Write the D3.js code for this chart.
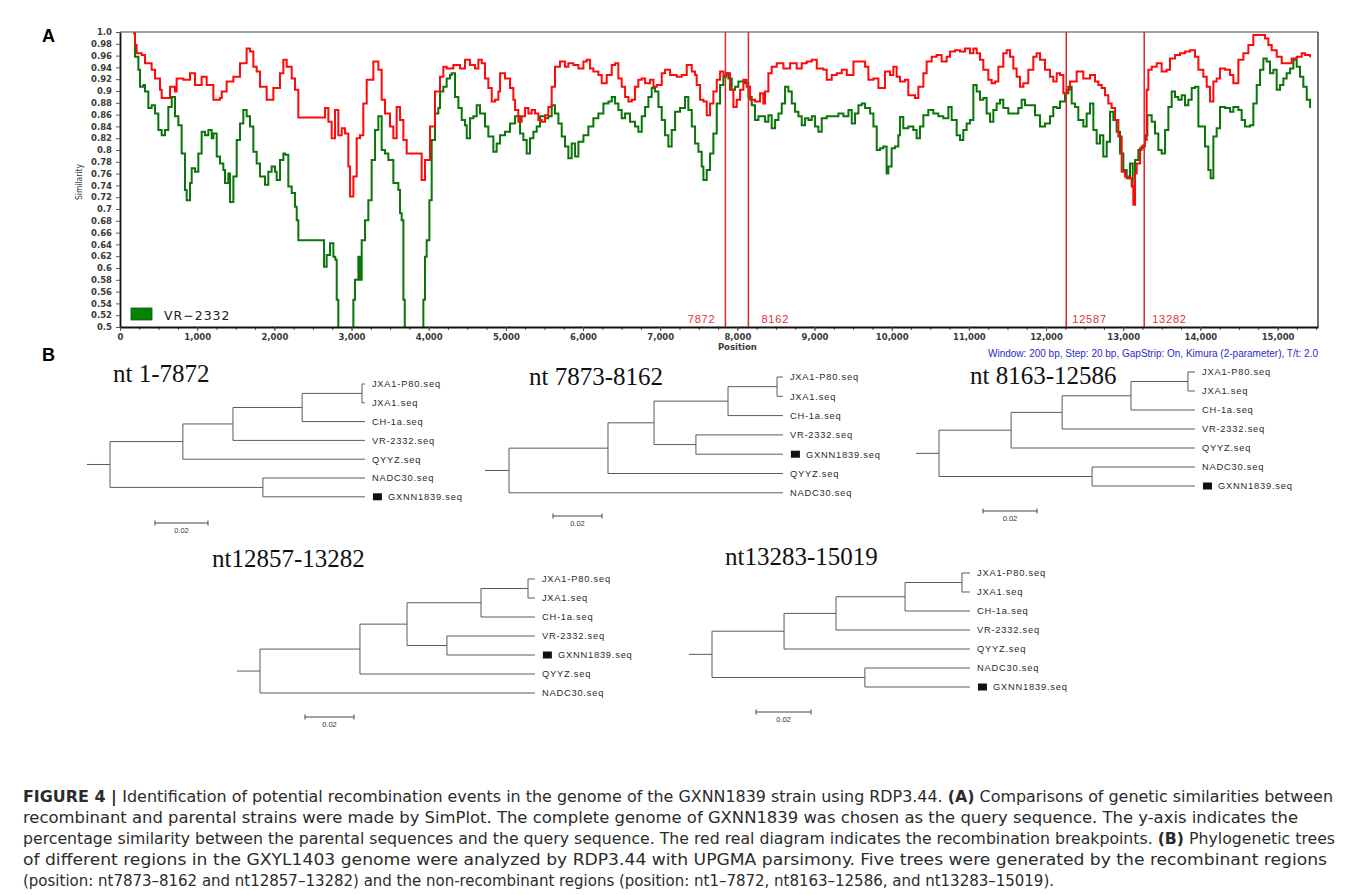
<!DOCTYPE html>
<html>
<head>
<meta charset="utf-8">
<script src="https://cdn.jsdelivr.net/npm/d3@7"></script>
<style>
  body { margin: 0; background: #fff; }
  svg { display: block; }
</style>
</head>
<body>
<svg id="fig" width="1358" height="895"></svg>
<script>
// ---- panel A data: [position (bp), similarity] ----
const redSeries = [
  [173,.998],[194,.978],[216,.964],[281,.961],[324,.947],[410,.936],[454,.921],[518,.902],[540,.888],[605,.888],
  [648,.907],[713,.899],[734,.921],[821,.919],[907,.930],[972,.910],[1058,.924],[1123,.910],[1188,.910],[1210,.885],
  [1296,.888],[1318,.899],[1382,.916],[1469,.924],[1555,.947],[1641,.972],[1685,.967],[1728,.941],[1771,.933],[1814,.907],
  [1901,.885],[1987,.905],[2073,.930],[2117,.953],[2160,.941],[2225,.921],[2268,.902],[2311,.855],[2635,.855],[2657,.871],
  [2700,.848],[2743,.820],[2786,.868],[2829,.825],[2873,.837],[2916,.828],[2959,.772],[2981,.721],[3024,.755],[3067,.820],
  [3110,.825],[3153,.879],[3197,.919],[3283,.950],[3348,.936],[3391,.885],[3434,.862],[3499,.840],[3542,.820],[3585,.873],
  [3629,.851],[3672,.817],[3715,.794],[3866,.794],[3909,.749],[3952,.783],[4017,.840],[4082,.899],[4147,.924],
  [4190,.941],[4233,.938],[4320,.944],[4406,.938],[4471,.953],[4536,.944],[4600,.938],[4644,.953],[4687,.947],[4730,.921],
  [4773,.905],[4817,.882],[4860,.885],[4903,.899],[4925,.930],[4989,.921],[5054,.905],[5097,.885],[5119,.868],[5162,.848],
  [5205,.857],[5249,.871],[5292,.862],[5335,.868],[5378,.862],[5421,.851],[5465,.848],[5508,.859],[5551,.873],[5594,.907],
  [5637,.941],[5702,.950],[5767,.941],[5810,.947],[5875,.944],[5940,.938],[6005,.950],[6048,.953],[6091,.938],[6134,.933],
  [6199,.927],[6242,.913],[6307,.927],[6372,.944],[6415,.947],[6458,.921],[6501,.907],[6545,.890],[6588,.882],[6631,.885],
  [6674,.907],[6717,.919],[6761,.921],[6804,.913],[6869,.919],[6912,.907],[6955,.910],[7020,.930],[7063,.936],[7128,.927],
  [7214,.924],[7279,.927],[7344,.944],[7409,.933],[7452,.927],[7473,.910],[7517,.885],[7560,.882],[7603,.859],[7646,.879],
  [7689,.899],[7733,.919],[7776,.933],[7819,.927],[7862,.930],[7905,.902],[7949,.873],[7992,.885],[8035,.902],[8078,.919],
  [8121,.907],[8165,.885],[8229,.882],[8294,.896],[8337,.879],[8359,.899],[8402,.930],[8445,.941],[8510,.947],[8597,.938],
  [8683,.947],[8769,.938],[8834,.947],[8899,.950],[8964,.953],[9029,.938],[9115,.936],[9158,.919],[9223,.927],[9288,.930],
  [9353,.936],[9418,.927],[9504,.950],[9590,.950],[9655,.941],[9698,.919],[9763,.921],[9828,.905],[9913,.933],[9978,.927],
  [10021,.941],[10064,.924],[10107,.916],[10172,.919],[10215,.893],[10258,.893],[10302,.888],[10345,.907],[10410,.930],[10453,.950],
  [10518,.958],[10582,.961],[10647,.950],[10712,.958],[10755,.967],[10820,.969],[10885,.967],[10950,.972],[11014,.964],[11058,.972],
  [11101,.964],[11144,.953],[11187,.936],[11252,.919],[11295,.913],[11338,.916],[11382,.941],[11446,.964],[11490,.969],[11533,.958],
  [11576,.938],[11619,.924],[11662,.907],[11706,.913],[11770,.936],[11835,.958],[11878,.964],[11922,.953],[11986,.936],[12051,.924],
  [12094,.916],[12138,.930],[12181,.927],[12224,.896],[12267,.902],[12310,.916],[12354,.916],[12397,.933],[12440,.933],[12483,.921],
  [12526,.921],[12570,.927],[12634,.916],[12678,.910],[12721,.905],[12764,.893],[12807,.879],[12850,.871],[12894,.851],[12937,.823],
  [12980,.763],[13023,.755],[13066,.752],[13110,.738],[13131,.707],[13153,.760],[13174,.777],[13218,.803],[13261,.808],[13282,.817],
  [13304,.902],[13326,.936],[13369,.941],[13434,.947],[13498,.933],[13563,.936],[13606,.955],[13671,.961],[13736,.964],[13801,.967],
  [13866,.969],[13930,.958],[13974,.936],[14038,.924],[14082,.907],[14125,.882],[14168,.916],[14211,.921],[14254,.938],[14319,.936],
  [14384,.927],[14427,.913],[14492,.953],[14557,.964],[14622,.978],[14686,.995],[14773,.995],[14838,.989],[14881,.978],[14924,.969],
  [14989,.958],[15054,.947],[15118,.947],[15183,.955],[15248,.958],[15313,.964],[15356,.961],[15421,.957]
];

const greenSeries = [
  [173,.998],[194,.958],[238,.936],[259,.907],[302,.910],[324,.899],[367,.871],[410,.876],[454,.862],[497,.834],
  [540,.825],[583,.834],[626,.873],[670,.890],[713,.857],[756,.842],[799,.794],[842,.732],[864,.715],[907,.744],
  [929,.769],[972,.763],[1015,.794],[1058,.831],[1102,.825],[1145,.834],[1188,.820],[1210,.828],[1253,.789],[1296,.777],
  [1339,.766],[1361,.744],[1404,.760],[1425,.712],[1469,.755],[1512,.817],[1555,.845],[1598,.868],[1641,.857],[1685,.840],
  [1728,.797],[1771,.777],[1814,.755],[1879,.741],[1922,.763],[1965,.772],[2009,.763],[2030,.749],[2073,.783],[2117,.794],
  [2138,.792],[2181,.738],[2225,.727],[2268,.704],[2290,.681],[2311,.647],[2635,.647],[2644,.602],[2678,.622],[2721,.642],
  [2765,.619],[2790,.614],[2808,.546],[2829,.45],[3002,.45],[3024,.546],[3045,.580],[3089,.619],[3110,.580],[3132,.647],
  [3175,.681],[3218,.715],[3261,.783],[3305,.834],[3348,.857],[3391,.800],[3434,.794],[3477,.783],[3542,.744],[3607,.732],
  [3629,.693],[3650,.681],[3672,.546],[3690,.45],[3900,.45],[3931,.546],[3952,.619],[3974,.647],[4009,.715],[4039,.817],
  [4082,.862],[4125,.871],[4147,.899],[4190,.907],[4233,.921],[4277,.927],[4298,.930],[4341,.890],[4385,.871],[4428,.851],
  [4471,.842],[4493,.820],[4536,.854],[4579,.857],[4622,.876],[4665,.862],[4730,.840],[4773,.823],[4838,.797],[4881,.811],
  [4925,.825],[4989,.831],[5054,.845],[5119,.857],[5184,.828],[5227,.817],[5270,.794],[5313,.820],[5357,.831],[5400,.840],
  [5443,.857],[5508,.854],[5551,.857],[5594,.876],[5637,.862],[5681,.845],[5724,.823],[5767,.806],[5810,.786],[5853,.811],
  [5897,.789],[5940,.814],[6005,.825],[6069,.840],[6134,.854],[6199,.862],[6264,.879],[6329,.882],[6372,.890],[6415,.879],
  [6458,.868],[6501,.854],[6545,.862],[6609,.848],[6674,.840],[6717,.831],[6761,.857],[6804,.873],[6847,.890],[6890,.905],
  [6933,.899],[6977,.873],[7020,.851],[7063,.825],[7106,.806],[7149,.834],[7193,.865],[7257,.871],[7322,.890],[7365,.868],
  [7409,.840],[7452,.811],[7495,.797],[7538,.772],[7560,.749],[7603,.766],[7646,.794],[7689,.828],[7733,.879],[7776,.910],
  [7819,.924],[7854,.930],[7884,.921],[7927,.902],[7970,.907],[8013,.916],[8057,.916],[8100,.913],[8143,.890],[8186,.876],
  [8229,.851],[8273,.857],[8316,.857],[8359,.848],[8402,.859],[8445,.837],[8489,.851],[8532,.862],[8575,.879],[8618,.907],
  [8661,.899],[8705,.879],[8748,.865],[8791,.857],[8834,.842],[8877,.854],[8921,.851],[8964,.857],[9007,.840],[9050,.831],
  [9093,.854],[9158,.857],[9245,.857],[9309,.862],[9374,.857],[9439,.868],[9482,.845],[9525,.862],[9569,.876],[9612,.879],
  [9655,.871],[9720,.862],[9763,.840],[9806,.800],[9849,.803],[9891,.806],[9934,.760],[9956,.772],[9999,.803],[10042,.806],
  [10086,.825],[10107,.856],[10150,.837],[10215,.840],[10280,.834],[10323,.820],[10366,.840],[10410,.859],[10474,.868],[10539,.862],
  [10604,.857],[10669,.854],[10734,.873],[10777,.851],[10842,.825],[10885,.817],[10928,.834],[10971,.845],[11014,.851],[11058,.910],
  [11101,.899],[11144,.885],[11187,.888],[11230,.862],[11274,.848],[11317,.868],[11360,.879],[11403,.885],[11446,.871],[11511,.862],
  [11576,.862],[11641,.871],[11684,.885],[11727,.876],[11792,.876],[11857,.859],[11922,.840],[11986,.845],[12051,.857],[12094,.873],
  [12138,.871],[12181,.882],[12246,.896],[12289,.907],[12332,.879],[12375,.873],[12418,.851],[12483,.840],[12526,.862],[12570,.879],
  [12613,.834],[12656,.811],[12699,.825],[12742,.789],[12786,.814],[12829,.865],[12872,.851],[12915,.831],[12958,.794],[13002,.766],
  [13045,.752],[13088,.777],[13123,.738],[13153,.783],[13196,.800],[13239,.806],[13282,.825],[13313,.859],[13369,.848],[13412,.828],
  [13455,.800],[13498,.794],[13542,.834],[13585,.873],[13628,.899],[13671,.890],[13714,.885],[13758,.893],[13801,.876],[13844,.885],
  [13887,.905],[13930,.907],[13974,.840],[14017,.840],[14060,.806],[14103,.766],[14133,.752],[14168,.823],[14211,.837],[14254,.873],
  [14319,.871],[14384,.865],[14427,.873],[14492,.868],[14535,.851],[14578,.840],[14643,.842],[14686,.879],[14730,.910],[14773,.936],
  [14816,.955],[14859,.950],[14902,.930],[14946,.936],[14989,.902],[15032,.910],[15075,.921],[15118,.930],[15162,.938],[15205,.953],
  [15248,.941],[15291,.924],[15334,.907],[15378,.885],[15421,.871]
];

const breakPos = [7845, 8143, 12262, 13272];
const breakLabels = ["7872", "8162", "12587", "13282"];
const xTickValues = [0,1000,2000,3000,4000,5000,6000,7000,8000,9000,10000,11000,12000,13000,14000,15000];
const yTickValues = [0.5,0.52,0.54,0.56,0.58,0.6,0.62,0.64,0.66,0.68,0.7,0.72,0.74,0.76,0.78,0.8,
                     0.82,0.84,0.86,0.88,0.9,0.92,0.94,0.96,0.98,1.0];
const legendName = "VR\u22122332";
const windowNote = "Window: 200 bp, Step: 20 bp, GapStrip: On, Kimura (2-parameter), T/t: 2.0";

// ---- panel B data: UPGMA trees, d = distance from root ----
const treeTitles = ["nt 1-7872", "nt 7873-8162", "nt 8163-12586", "nt12857-13282", "nt13283-15019"];
const tipDepths = [0.0962, 0.1118, 0.0948, 0.1122, 0.0938];
const stemLengths = [0.0087, 0.0098, 0.0085, 0.0094, 0.0084];
const trees = [
  {d:0, c:[
    {d:.0275, c:[{d:.0464, c:[{d:.0725, c:[{d:.0951, c:[{n:"JXA1-P80.seq"},{n:"JXA1.seq"}]},{n:"CH-1a.seq"}]},{n:"VR-2332.seq"}]},{n:"QYYZ.seq"}]},
    {d:.0577, c:[{n:"NADC30.seq"},{n:"GXNN1839.seq", q:true}]}]},
  {d:0, c:[
    {d:.0404, c:[{d:.0592, c:[{d:.0894, c:[{d:.1094, c:[{n:"JXA1-P80.seq"},{n:"JXA1.seq"}]},{n:"CH-1a.seq"}]},
                               {d:.0763, c:[{n:"VR-2332.seq"},{n:"GXNN1839.seq", q:true}]}]},{n:"QYYZ.seq"}]},
    {n:"NADC30.seq"}]},
  {d:0, c:[
    {d:.0267, c:[{d:.0456, c:[{d:.0711, c:[{d:.0922, c:[{n:"JXA1-P80.seq"},{n:"JXA1.seq"}]},{n:"CH-1a.seq"}]},{n:"VR-2332.seq"}]},{n:"QYYZ.seq"}]},
    {d:.0567, c:[{n:"NADC30.seq"},{n:"GXNN1839.seq", q:true}]}]},
  {d:0, c:[
    {d:.0408, c:[{d:.0600, c:[{d:.0902, c:[{d:.1094, c:[{n:"JXA1-P80.seq"},{n:"JXA1.seq"}]},{n:"CH-1a.seq"}]},
                               {d:.0763, c:[{n:"VR-2332.seq"},{n:"GXNN1839.seq", q:true}]}]},{n:"QYYZ.seq"}]},
    {n:"NADC30.seq"}]},
  {d:0, c:[
    {d:.0262, c:[{d:.0451, c:[{d:.0702, c:[{d:.0909, c:[{n:"JXA1-P80.seq"},{n:"JXA1.seq"}]},{n:"CH-1a.seq"}]},{n:"VR-2332.seq"}]},{n:"QYYZ.seq"}]},
    {d:.0556, c:[{n:"NADC30.seq"},{n:"GXNN1839.seq", q:true}]}]}
];
const scaleBarValue = 0.02;

const captionLines = [
  [["FIGURE 4 | ", true], ["Identification of potential recombination events in the genome of the GXNN1839 strain using RDP3.44. ", false], ["(A)", true], [" Comparisons of genetic similarities between", false]],
  [["recombinant and parental strains were made by SimPlot. The complete genome of GXNN1839 was chosen as the query sequence. The y-axis indicates the", false]],
  [["percentage similarity between the parental sequences and the query sequence. The red real diagram indicates the recombination breakpoints. ", false], ["(B)", true], [" Phylogenetic trees", false]],
  [["of different regions in the GXYL1403 genome were analyzed by RDP3.44 with UPGMA parsimony. Five trees were generated by the recombinant regions", false]],
  [["(position: nt7873\u20138162 and nt12857\u201313282) and the non-recombinant regions (position: nt1\u20137872, nt8163\u201312586, and nt13283\u201315019).", false]]
];
const captionWidths = [1310, 1275, 1312, 1304, 1031];

// ---- drawing ----
const svg = d3.select("#fig");
svg.append("rect").attr("width", 1358).attr("height", 895).attr("fill", "#fff");

const pL = 120, pR = 1318, pT = 32, pB = 327;
const x = d3.scaleLinear().domain([0, 15524]).range([pL, pR]);
const y = d3.scaleLinear().domain([0.5, 1.0]).range([pB, pT]);

svg.append("clipPath").attr("id", "plotClip")
  .append("rect").attr("x", pL).attr("y", pT).attr("width", pR - pL).attr("height", pB - pT);

// frame (top/right)
svg.append("line").attr("x1", pL).attr("x2", pR).attr("y1", pT).attr("y2", pT)
  .attr("stroke", "#444").attr("stroke-width", 1.2);
svg.append("line").attr("x1", pR).attr("x2", pR).attr("y1", pT).attr("y2", pB)
  .attr("stroke", "#444").attr("stroke-width", 1.5);

const line = d3.line().x(d => x(d[0])).y(d => y(d[1])).curve(d3.curveStepAfter);

const plot = svg.append("g").attr("clip-path", "url(#plotClip)");
plot.append("path").datum(greenSeries).attr("d", line)
  .attr("fill", "none").attr("stroke", "#0b740b").attr("stroke-width", 2);
plot.append("path").datum(redSeries).attr("d", line)
  .attr("fill", "none").attr("stroke", "#ff0a0a").attr("stroke-width", 2);

// breakpoints
svg.append("g").selectAll("line").data(breakPos).join("line")
  .attr("x1", d => x(d)).attr("x2", d => x(d)).attr("y1", pT).attr("y2", pB)
  .attr("stroke", "#e0262b").attr("stroke-width", 1.5);
svg.append("g").selectAll("text").data(breakLabels).join("text")
  .attr("x", (d, i) => x(breakPos[i]) + [-10, 13, 6, 8][i])
  .attr("y", pB - 4)
  .attr("text-anchor", (d, i) => i === 0 ? "end" : "start")
  .attr("fill", "#e0303a").attr("font-family", "Liberation Sans, Arial, sans-serif")
  .attr("font-size", 11).attr("letter-spacing", 0.8)
  .text(d => d);

// axes
const yFmt = v => v === 1 ? "1.0" : String(+v.toFixed(2));
const yAxis = svg.append("g").attr("transform", `translate(${pL},0)`)
  .call(d3.axisLeft(y).tickValues(yTickValues).tickSize(4).tickSizeOuter(0).tickFormat(yFmt));
yAxis.select(".domain").attr("stroke", "#111").attr("stroke-width", 1.8);
yAxis.selectAll(".tick line").attr("stroke", "#555");
yAxis.selectAll("text").attr("font-family", "DejaVu Sans, sans-serif").attr("font-weight", "bold")
  .attr("font-size", 8.5).attr("fill", "#3a3a3a").attr("dx", -1);

svg.append("g").attr("transform", `translate(0,${pB})`)
  .call(d3.axisBottom(x).tickValues(d3.range(250, 15524, 250)).tickSize(3).tickFormat(""))
  .call(g => g.select(".domain").remove())
  .call(g => g.selectAll(".tick line").attr("stroke", "#555"));
const xAxis = svg.append("g").attr("transform", `translate(0,${pB})`)
  .call(d3.axisBottom(x).tickValues(xTickValues).tickSize(4).tickSizeOuter(0).tickFormat(d3.format(",")));
xAxis.select(".domain").attr("stroke", "#111").attr("stroke-width", 1.8);
xAxis.selectAll(".tick line").attr("stroke", "#555");
xAxis.selectAll("text").attr("font-family", "DejaVu Sans, sans-serif").attr("font-weight", "bold")
  .attr("font-size", 8.5).attr("fill", "#3a3a3a");

svg.append("text").attr("x", x(8000)).attr("y", 349.5).attr("text-anchor", "middle")
  .attr("font-family", "DejaVu Sans, sans-serif").attr("font-weight", "bold").attr("font-size", 8.5)
  .attr("fill", "#3a3a3a").text("Position");
svg.append("text").attr("transform", `translate(82,182) rotate(-90)`).attr("text-anchor", "middle")
  .attr("font-family", "DejaVu Sans Condensed, Liberation Sans, sans-serif").attr("font-size", 8.5)
  .attr("fill", "#333").text("Similarity");
svg.append("text").attr("x", pR).attr("y", 357).attr("text-anchor", "end")
  .attr("font-family", "Liberation Sans, Arial, sans-serif").attr("font-size", 10)
  .attr("fill", "#2a2ac8").text(windowNote);

// legend
svg.append("rect").attr("x", 131).attr("y", 308).attr("width", 21).attr("height", 12)
  .attr("fill", "#068206").attr("stroke", "#045a04").attr("stroke-width", 0.8);
svg.append("text").attr("x", 164).attr("y", 320).attr("font-family", "DejaVu Sans, sans-serif")
  .attr("font-size", 12.5).attr("letter-spacing", 1).attr("fill", "#222").text(legendName);

// panel letters
svg.append("text").attr("x", 42).attr("y", 42).attr("font-family", "Liberation Sans, Arial, sans-serif")
  .attr("font-weight", "bold").attr("font-size", 18).text("A");
svg.append("text").attr("x", 42).attr("y", 361).attr("font-family", "Liberation Sans, Arial, sans-serif")
  .attr("font-weight", "bold").attr("font-size", 18).text("B");

// ---- trees ----
const treeBoxes = [
  {rootX: 110, ppu: 2650, y0: 384, step: 18.8, tx: 113, ty: 382, bx: 155, by: 523},
  {rootX: 509, ppu: 2450, y0: 377, step: 19.3, tx: 529, ty: 385, bx: 553, by: 516},
  {rootX: 939, ppu: 2700, y0: 372, step: 19.0, tx: 970, ty: 384, bx: 983, by: 511},
  {rootX: 260, ppu: 2450, y0: 579, step: 19.0, tx: 212, ty: 567, bx: 305, by: 717},
  {rootX: 712, ppu: 2750, y0: 573, step: 19.0, tx: 725, ty: 565, bx: 756, by: 712}
];

trees.forEach((t, i) => {
  const box = treeBoxes[i];
  const tx = d3.scaleLinear().domain([0, tipDepths[i]]).range([box.rootX, box.rootX + tipDepths[i] * box.ppu]);
  const root = d3.hierarchy(t, d => d.c);
  root.leaves().forEach((lf, k) => { lf.py = box.y0 + k * box.step; });
  root.eachAfter(nd => {
    nd.px = tx(nd.children ? nd.data.d : tipDepths[i]);
    if (nd.children) nd.py = (nd.children[0].py + nd.children[nd.children.length - 1].py) / 2;
  });
  const g = svg.append("g").attr("stroke", "#5a5a5a").attr("stroke-width", 1).attr("fill", "none");
  g.append("line").attr("x1", tx(-stemLengths[i])).attr("x2", root.px).attr("y1", root.py).attr("y2", root.py);
  root.descendants().forEach(nd => {
    if (nd.parent) g.append("line").attr("x1", nd.parent.px).attr("x2", nd.px).attr("y1", nd.py).attr("y2", nd.py);
    if (nd.children) g.append("line").attr("x1", nd.px).attr("x2", nd.px)
      .attr("y1", nd.children[0].py).attr("y2", nd.children[nd.children.length - 1].py);
  });
  const lab = svg.append("g").attr("font-family", "Liberation Sans, Arial, sans-serif")
    .attr("font-size", 9.3).attr("letter-spacing", 0.8).attr("fill", "#2a2a2a");
  root.leaves().forEach(lf => {
    if (lf.data.q) {
      lab.append("rect").attr("x", lf.px + 8).attr("y", lf.py - 3.5).attr("width", 9).attr("height", 7).attr("fill", "#111");
      lab.append("text").attr("x", lf.px + 23).attr("y", lf.py + 3.3).text(lf.data.n);
    } else {
      lab.append("text").attr("x", lf.px + 7).attr("y", lf.py + 3.3).text(lf.data.n);
    }
  });
  // title
  svg.append("text").attr("x", box.tx).attr("y", box.ty).attr("font-family", "Liberation Serif, Times New Roman, serif")
    .attr("font-size", 25).attr("fill", "#111").text(treeTitles[i]);
  // scale bar
  const bl = scaleBarValue * box.ppu;
  const sb = svg.append("g").attr("stroke", "#444").attr("stroke-width", 1);
  sb.append("line").attr("x1", box.bx).attr("x2", box.bx + bl).attr("y1", box.by).attr("y2", box.by);
  sb.append("line").attr("x1", box.bx).attr("x2", box.bx).attr("y1", box.by - 2.5).attr("y2", box.by + 2.5);
  sb.append("line").attr("x1", box.bx + bl).attr("x2", box.bx + bl).attr("y1", box.by - 2.5).attr("y2", box.by + 2.5);
  svg.append("text").attr("x", box.bx + bl / 2).attr("y", box.by + 10).attr("text-anchor", "middle")
    .attr("font-family", "Liberation Sans, Arial, sans-serif").attr("font-size", 7.5).attr("fill", "#333")
    .text(String(scaleBarValue));
});

// ---- caption ----
const cap = svg.append("g").attr("font-family", "DejaVu Sans Condensed, Liberation Sans, Arial, sans-serif")
  .attr("font-size", 16.5).attr("fill", "#2b2b2b");
captionLines.forEach((parts, i) => {
  const t = cap.append("text").attr("x", 23).attr("y", 802 + i * 21)
    .attr("textLength", captionWidths[i]).attr("lengthAdjust", "spacingAndGlyphs");
  parts.forEach(([s, b]) => t.append("tspan").attr("font-weight", b ? "bold" : null).text(s));
});
</script>
</body>
</html>
